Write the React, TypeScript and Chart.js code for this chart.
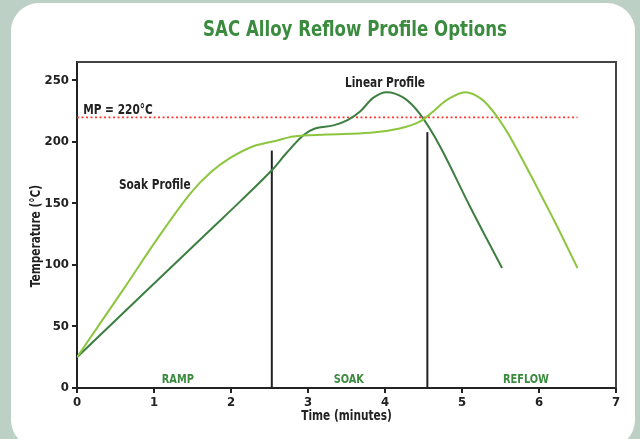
import { useEffect, useRef } from "react";
import { Chart, registerables } from "chart.js";
Chart.register(...registerables);

const chartTitle = "SAC Alloy Reflow Profile Options";
const xAxisTitle = "Time (minutes)";
const yAxisTitle = "Temperature (°C)";
const xTicks = [0, 1, 2, 3, 4, 5, 6, 7];
const yTicks = [0, 50, 100, 150, 200, 250];

const soakX = [0, 0.6, 1.04, 1.47, 1.73, 1.99, 2.29, 2.59, 2.81, 3.24, 3.81, 4.19, 4.45, 4.63, 4.8, 5.04, 5.25, 5.45, 5.67, 6.19, 6.5];
const soakY = [25, 80, 121, 158, 175, 187, 196.5, 201, 204.5, 206, 207.4, 211, 216.5, 225, 234, 240.5, 235, 221, 199, 137, 97.5];

const linearX = [0, 1.73, 2.12, 2.53, 2.72, 2.94, 3.09, 3.33, 3.52, 3.68, 3.85, 4.02, 4.24, 4.45, 4.71, 5.1, 5.52];
const linearY = [25, 128.5, 151.7, 177, 191, 205.5, 211, 213.5, 218, 225, 236, 240.5, 236, 223, 197, 148, 97.5];

const phaseX = [2.53, 4.55];
const phaseTop = [193, 208];
const meltPoint = 220;
const meltEndX = 6.5;

const phaseLabels = ["RAMP", "SOAK", "REFLOW"];
const phaseLabelX = [1.31, 3.53, 5.83];
const phaseLabelY = 7;

const curveLabels = ["MP = 220°C", "Soak Profile", "Linear Profile"];
const curveLabelX = [0.08, 1.01, 4.0];
const curveLabelY = [226, 165, 248];
const curveLabelAlign: CanvasTextAlign[] = ["left", "center", "center"];

const FONT = "'DejaVu Sans Condensed', 'DejaVu Sans', sans-serif";
const DARK = "#3d7f41";
const LIGHT = "#8cc63f";
const LABEL_GREEN = "#3b8b3f";
const SQUEEZE = 0.84;

function drawText(ctx: CanvasRenderingContext2D, text: string, x: number, y: number, align: CanvasTextAlign, rot = 0) {
  ctx.save();
  ctx.translate(x, y);
  if (rot) ctx.rotate(rot);
  ctx.scale(SQUEEZE, 1);
  ctx.textAlign = align;
  ctx.textBaseline = "middle";
  ctx.fillText(text, 0, 0);
  ctx.restore();
}

const textPlugin = {
  id: "textPlugin",
  afterDatasetsDraw(chart: any) {
    const { ctx, scales, chartArea } = chart;
    const xs = scales.x;
    const ys = scales.y;
    ctx.save();
    ctx.strokeStyle = "#444";
    ctx.lineWidth = 2;
    ctx.beginPath();
    ctx.moveTo(chartArea.left, chartArea.top);
    ctx.lineTo(chartArea.right, chartArea.top);
    ctx.lineTo(chartArea.right, chartArea.bottom);
    ctx.stroke();
    ctx.fillStyle = LABEL_GREEN;
    ctx.font = `bold 22px ${FONT}`;
    drawText(ctx, chartTitle, 355, 30, "center");
    ctx.fillStyle = "#222";
    ctx.font = `bold 14px ${FONT}`;
    drawText(ctx, xAxisTitle, (chartArea.left + chartArea.right) / 2, 416, "center");
    drawText(ctx, yAxisTitle, 36, 236, "center", -Math.PI / 2);
    ctx.font = `bold 13px ${FONT}`;
    ctx.fillStyle = LABEL_GREEN;
    phaseLabels.forEach((t, i) => {
      drawText(ctx, t, xs.getPixelForValue(phaseLabelX[i]), ys.getPixelForValue(phaseLabelY), "center");
    });
    ctx.font = `bold 14px ${FONT}`;
    ctx.fillStyle = "#222";
    curveLabels.forEach((t, i) => {
      drawText(ctx, t, xs.getPixelForValue(curveLabelX[i]), ys.getPixelForValue(curveLabelY[i]), curveLabelAlign[i]);
    });
    ctx.restore();
  },
};

export default function App() {
  const ref = useRef<HTMLCanvasElement>(null);
  useEffect(() => {
    document.body.style.margin = "0";
    const datasets: any[] = [
      {
        data: soakX.map((x, i) => ({ x, y: soakY[i] })),
        borderColor: LIGHT,
        borderWidth: 2,
        pointRadius: 0,
        tension: 0.35,
        fill: false,
      },
      {
        data: linearX.map((x, i) => ({ x, y: linearY[i] })),
        borderColor: DARK,
        borderWidth: 2,
        pointRadius: 0,
        tension: 0.35,
        fill: false,
      },
      {
        data: [{ x: 0, y: meltPoint }, { x: meltEndX, y: meltPoint }],
        borderColor: "#ff3b30",
        borderWidth: 1.6,
        borderDash: [2, 2.5],
        pointRadius: 0,
        tension: 0,
      },
      ...phaseX.map((px, i) => ({
        data: [{ x: px, y: 0 }, { x: px, y: phaseTop[i] }],
        borderColor: "#222",
        borderWidth: 2,
        pointRadius: 0,
        tension: 0,
        clip: false,
      })),
    ];
    const tickFont = { family: FONT, size: 13, weight: "bold" };
    const chart = new Chart(ref.current!, {
      type: "line",
      data: { datasets },
      plugins: [textPlugin],
      options: {
        animation: false,
        responsive: false,
        layout: { padding: { top: 62, right: 24, left: 0, bottom: 0 } },
        plugins: { legend: { display: false }, tooltip: { enabled: false } },
        scales: {
          x: {
            type: "linear",
            min: 0,
            max: 7,
            afterFit: (s: any) => { s.height = 51; },
            afterBuildTicks: (s: any) => { s.ticks = xTicks.map((v) => ({ value: v })); },
            ticks: { font: tickFont, color: "#222", padding: 2 },
            grid: { display: true, drawOnChartArea: false, drawTicks: true, tickLength: 5, color: "#222", lineWidth: 2 },
            border: { display: true, color: "#222", width: 2 },
          },
          y: {
            type: "linear",
            min: 0,
            max: 265,
            afterFit: (s: any) => { s.width = 77; },
            afterBuildTicks: (s: any) => { s.ticks = yTicks.map((v) => ({ value: v })); },
            ticks: { font: tickFont, color: "#222", padding: 3 },
            grid: { display: true, drawOnChartArea: false, drawTicks: true, tickLength: 5, color: "#222", lineWidth: 2 },
            border: { display: true, color: "#222", width: 2 },
          },
        },
      } as any,
    });
    return () => chart.destroy();
  }, []);
  return (
    <div style={{ position: "fixed", left: 0, top: 0, width: 640, height: 439, background: "#bdd0c6", overflow: "hidden" }}>
      <div style={{ position: "absolute", left: 11, top: 3, width: 624, height: 445, background: "#fff", borderRadius: 28 }} />
      <canvas ref={ref} width={640} height={439} style={{ position: "absolute", left: 0, top: 0, width: 640, height: 439 }} />
    </div>
  );
}
